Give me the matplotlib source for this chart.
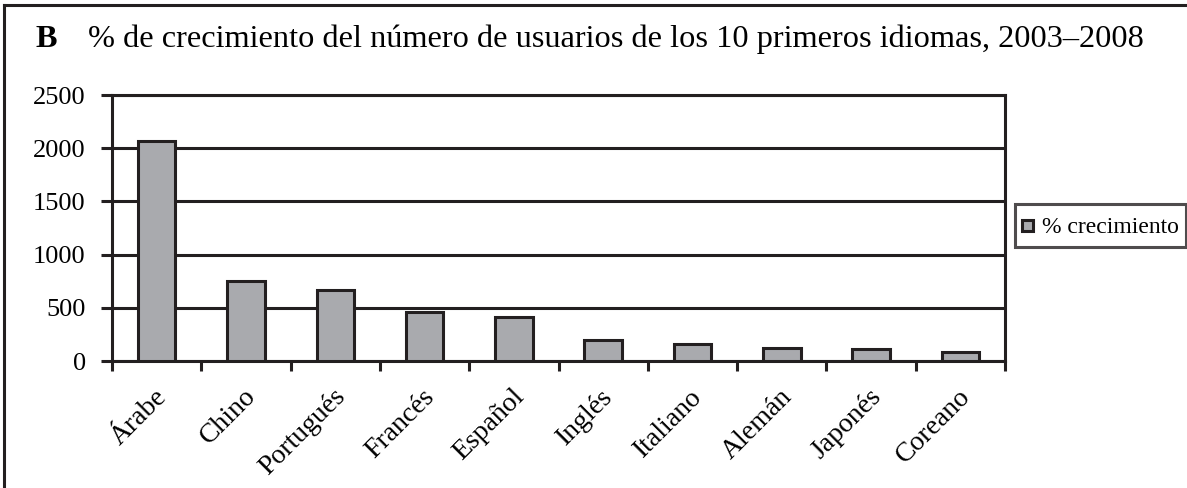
import numpy as np
import matplotlib.pyplot as plt
from matplotlib.lines import Line2D
from matplotlib.patches import Rectangle
from matplotlib.container import BarContainer
from matplotlib.legend_handler import HandlerPatch, update_from_first_child

idiomas = ['Árabe', 'Chino', 'Portugués', 'Francés', 'Español',
           'Inglés', 'Italiano', 'Alemán', 'Japonés', 'Coreano']
crecimiento = [2068, 755, 667, 463, 411, 197, 163, 125, 110, 87]
yticks = [0, 500, 1000, 1500, 2000, 2500]

ink = '#231f20'
gris = '#a9aaae'

plt.rcParams['font.family'] = ['Liberation Serif', 'DejaVu Serif']


def square(legend, orig_handle, xdescent, ydescent, width, height, fontsize):
    # small square marker, vertically centred in a taller legend row
    return Rectangle((-xdescent, -ydescent + (height - width) / 2),
                     width, width)


fig = plt.figure(figsize=(11.87, 4.88), dpi=100)
ax = fig.add_axes([0.0944, 0.2602, 0.7523, 0.5451])

x = np.arange(len(idiomas))
ax.bar(x, crecimiento, width=0.42, color=gris, edgecolor=ink, linewidth=2.2,
       zorder=3, label='% crecimiento')

ax.set_xlim(-0.5, len(idiomas) - 0.5)
ax.set_ylim(0, 2500)
ax.set_yticks(yticks)
ax.set_yticklabels([str(v) for v in yticks], fontsize=19)
ax.grid(axis='y', color=ink, linewidth=2.2, zorder=1)

# ticks on category boundaries, labels slightly right of bar centres
ax.set_xticks(np.arange(len(idiomas) + 1) - 0.5)
ax.set_xticklabels([])
ax.set_xticks(x + 0.07, minor=True)
ax.set_xticklabels(idiomas, minor=True, rotation=45, ha='right', va='center',
                   rotation_mode='anchor', fontsize=20)
ax.tick_params(axis='x', which='minor', length=0, pad=23)
ax.tick_params(axis='x', which='major', direction='out', length=7,
               width=2.2, color=ink)
ax.tick_params(axis='y', direction='out', length=8, width=2.2, color=ink,
               pad=11)
for s in ax.spines.values():
    s.set_color(ink)
    s.set_linewidth(2.2)

leg = ax.legend(loc='center left', bbox_to_anchor=(1.011, 0.51),
                fontsize=17, frameon=True, fancybox=False,
                handlelength=0.45, handleheight=1.5, handletextpad=0.4,
                borderpad=0.3, borderaxespad=0,
                handler_map={BarContainer: HandlerPatch(
                    patch_func=square, update_func=update_from_first_child)})
leg.get_frame().set_edgecolor(ink)
leg.get_frame().set_linewidth(2.2)

# outer frame and heading
fig.add_artist(Line2D([4 / 1187, 4 / 1187], [0, 1 - 5 / 488], color=ink,
                      linewidth=2.2, transform=fig.transFigure))
fig.add_artist(Line2D([4 / 1187, 1], [1 - 5 / 488, 1 - 5 / 488], color=ink,
                      linewidth=2.2, transform=fig.transFigure))
fig.text(35 / 1187, 1 - 47 / 488, 'B', fontsize=23.3, fontweight='bold',
         va='baseline')
fig.text(88 / 1187, 1 - 47 / 488,
         '% de crecimiento del número de usuarios de los 10 primeros idiomas, 2003–2008',
         fontsize=23.3, va='baseline')

fig.savefig('out.png', dpi=100)
